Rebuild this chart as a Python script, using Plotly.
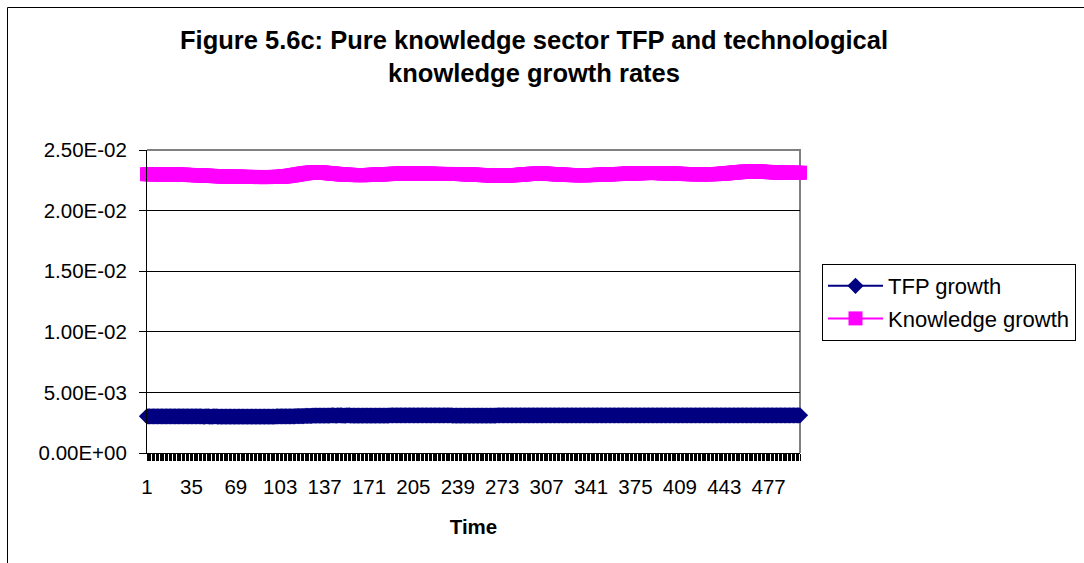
import plotly.graph_objects as go

# ---- data -------------------------------------------------------------
time = list(range(1, 502))
tick_times = [1, 35, 69, 103, 137, 171, 205, 239, 273, 307, 341, 375, 409, 443, 477]
y_ticks = [0.0, 0.005, 0.01, 0.015, 0.02, 0.025]
y_tick_text = ["0.00E+00", "5.00E-03", "1.00E-02", "1.50E-02", "2.00E-02", "2.50E-02"]

# one row = 20 time steps
tfp_growth = [
    0.00303, 0.00303, 0.00303, 0.00302, 0.00302, 0.00303, 0.00303, 0.00302, 0.00302, 0.00302, 0.00303, 0.00303, 0.00302, 0.00302, 0.00302, 0.00302, 0.00303, 0.00302, 0.00302, 0.00302,  # 1-20
    0.00302, 0.00302, 0.00302, 0.00302, 0.00303, 0.00302, 0.00302, 0.00302, 0.00302, 0.00302, 0.00302, 0.00302, 0.00302, 0.00302, 0.00302, 0.00302, 0.00302, 0.00302, 0.00302, 0.00302,  # 21-40
    0.00302, 0.00302, 0.00302, 0.00301, 0.00301, 0.00302, 0.00302, 0.00302, 0.00301, 0.00301, 0.00301, 0.00302, 0.00302, 0.00302, 0.00301, 0.00301, 0.00301, 0.00301, 0.00301, 0.00301,  # 41-60
    0.00301, 0.00301, 0.00301, 0.00301, 0.00301, 0.00301, 0.00301, 0.00301, 0.00301, 0.00301, 0.00301, 0.00301, 0.00301, 0.00301, 0.00301, 0.00301, 0.00301, 0.00301, 0.00301, 0.00301,  # 61-80
    0.00301, 0.00301, 0.00301, 0.00301, 0.00301, 0.00301, 0.00301, 0.00301, 0.00301, 0.00301, 0.00301, 0.00301, 0.00301, 0.00301, 0.00301, 0.00301, 0.00301, 0.00301, 0.00301, 0.00302,  # 81-100
    0.00302, 0.00302, 0.00302, 0.00302, 0.00302, 0.00302, 0.00302, 0.00302, 0.00303, 0.00303, 0.00303, 0.00303, 0.00303, 0.00303, 0.00304, 0.00304, 0.00304, 0.00304, 0.00305, 0.00305,  # 101-120
    0.00305, 0.00306, 0.00306, 0.00306, 0.00307, 0.00307, 0.00307, 0.00308, 0.00308, 0.00308, 0.00309, 0.00309, 0.00309, 0.00309, 0.00309, 0.00309, 0.00309, 0.00309, 0.00309, 0.00309,  # 121-140
    0.00309, 0.00310, 0.00310, 0.00310, 0.00309, 0.00309, 0.00310, 0.00310, 0.00310, 0.00310, 0.00309, 0.00309, 0.00309, 0.00310, 0.00310, 0.00310, 0.00309, 0.00309, 0.00309, 0.00309,  # 141-160
    0.00309, 0.00309, 0.00309, 0.00309, 0.00309, 0.00309, 0.00309, 0.00309, 0.00309, 0.00309, 0.00309, 0.00309, 0.00309, 0.00309, 0.00309, 0.00309, 0.00309, 0.00309, 0.00309, 0.00309,  # 161-180
    0.00309, 0.00309, 0.00309, 0.00309, 0.00309, 0.00309, 0.00310, 0.00310, 0.00310, 0.00310, 0.00310, 0.00310, 0.00310, 0.00310, 0.00310, 0.00310, 0.00310, 0.00310, 0.00310, 0.00310,  # 181-200
    0.00310, 0.00310, 0.00310, 0.00310, 0.00310, 0.00310, 0.00310, 0.00310, 0.00310, 0.00310, 0.00310, 0.00310, 0.00310, 0.00310, 0.00310, 0.00310, 0.00310, 0.00310, 0.00310, 0.00310,  # 201-220
    0.00310, 0.00310, 0.00310, 0.00310, 0.00310, 0.00310, 0.00310, 0.00310, 0.00310, 0.00310, 0.00310, 0.00310, 0.00310, 0.00310, 0.00309, 0.00309, 0.00309, 0.00309, 0.00309, 0.00309,  # 221-240
    0.00309, 0.00309, 0.00309, 0.00309, 0.00309, 0.00309, 0.00309, 0.00309, 0.00309, 0.00309, 0.00309, 0.00309, 0.00309, 0.00309, 0.00309, 0.00309, 0.00309, 0.00309, 0.00309, 0.00309,  # 241-260
    0.00309, 0.00309, 0.00309, 0.00309, 0.00309, 0.00309, 0.00309, 0.00309, 0.00310, 0.00310, 0.00310, 0.00310, 0.00310, 0.00310, 0.00310, 0.00310, 0.00310, 0.00310, 0.00310, 0.00310,  # 261-280
    0.00310, 0.00310, 0.00310, 0.00310, 0.00310, 0.00310, 0.00310, 0.00310, 0.00310, 0.00310, 0.00310, 0.00310, 0.00310, 0.00310, 0.00310, 0.00310, 0.00310, 0.00310, 0.00310, 0.00310,  # 281-300
    0.00310, 0.00310, 0.00310, 0.00310, 0.00310, 0.00310, 0.00310, 0.00310, 0.00310, 0.00310, 0.00310, 0.00310, 0.00310, 0.00310, 0.00310, 0.00310, 0.00310, 0.00310, 0.00310, 0.00310,  # 301-320
    0.00310, 0.00310, 0.00310, 0.00310, 0.00310, 0.00310, 0.00310, 0.00310, 0.00310, 0.00310, 0.00310, 0.00310, 0.00310, 0.00310, 0.00310, 0.00310, 0.00310, 0.00310, 0.00310, 0.00310,  # 321-340
    0.00310, 0.00310, 0.00310, 0.00310, 0.00310, 0.00310, 0.00310, 0.00310, 0.00310, 0.00310, 0.00310, 0.00310, 0.00310, 0.00310, 0.00310, 0.00310, 0.00310, 0.00310, 0.00310, 0.00310,  # 341-360
    0.00310, 0.00310, 0.00310, 0.00310, 0.00310, 0.00310, 0.00310, 0.00310, 0.00310, 0.00310, 0.00310, 0.00310, 0.00310, 0.00310, 0.00310, 0.00310, 0.00310, 0.00310, 0.00310, 0.00310,  # 361-380
    0.00310, 0.00310, 0.00310, 0.00310, 0.00310, 0.00310, 0.00310, 0.00310, 0.00310, 0.00310, 0.00310, 0.00310, 0.00310, 0.00310, 0.00310, 0.00310, 0.00310, 0.00310, 0.00310, 0.00310,  # 381-400
    0.00310, 0.00310, 0.00310, 0.00310, 0.00310, 0.00310, 0.00310, 0.00310, 0.00310, 0.00310, 0.00310, 0.00310, 0.00310, 0.00310, 0.00310, 0.00310, 0.00310, 0.00310, 0.00310, 0.00310,  # 401-420
    0.00310, 0.00310, 0.00310, 0.00310, 0.00310, 0.00310, 0.00310, 0.00310, 0.00310, 0.00310, 0.00310, 0.00310, 0.00310, 0.00310, 0.00310, 0.00310, 0.00310, 0.00310, 0.00310, 0.00310,  # 421-440
    0.00310, 0.00310, 0.00310, 0.00310, 0.00310, 0.00310, 0.00310, 0.00310, 0.00310, 0.00310, 0.00310, 0.00310, 0.00310, 0.00310, 0.00311, 0.00311, 0.00311, 0.00311, 0.00311, 0.00311,  # 441-460
    0.00311, 0.00311, 0.00311, 0.00311, 0.00311, 0.00311, 0.00311, 0.00311, 0.00311, 0.00311, 0.00311, 0.00311, 0.00311, 0.00311, 0.00311, 0.00311, 0.00311, 0.00311, 0.00311, 0.00311,  # 461-480
    0.00311, 0.00311, 0.00311, 0.00311, 0.00311, 0.00311, 0.00311, 0.00311, 0.00311, 0.00311, 0.00311, 0.00311, 0.00311, 0.00311, 0.00311, 0.00311, 0.00311, 0.00311, 0.00311, 0.00311,  # 481-500
    0.00311,  # 501
]

knowledge_growth = [
    0.02300, 0.02301, 0.02300, 0.02300, 0.02299, 0.02300, 0.02301, 0.02300, 0.02299, 0.02299, 0.02300, 0.02300, 0.02299, 0.02298, 0.02299, 0.02299, 0.02298, 0.02298, 0.02299, 0.02298,  # 1-20
    0.02298, 0.02297, 0.02297, 0.02298, 0.02297, 0.02296, 0.02296, 0.02297, 0.02296, 0.02295, 0.02295, 0.02294, 0.02295, 0.02294, 0.02293, 0.02293, 0.02292, 0.02293, 0.02292, 0.02291,  # 21-40
    0.02291, 0.02290, 0.02290, 0.02289, 0.02289, 0.02288, 0.02288, 0.02287, 0.02287, 0.02286, 0.02286, 0.02285, 0.02285, 0.02284, 0.02284, 0.02284, 0.02283, 0.02283, 0.02282, 0.02282,  # 41-60
    0.02282, 0.02281, 0.02281, 0.02281, 0.02280, 0.02280, 0.02280, 0.02280, 0.02279, 0.02280, 0.02279, 0.02279, 0.02279, 0.02278, 0.02279, 0.02278, 0.02278, 0.02278, 0.02278, 0.02277,  # 61-80
    0.02278, 0.02277, 0.02277, 0.02277, 0.02278, 0.02277, 0.02277, 0.02276, 0.02277, 0.02277, 0.02277, 0.02276, 0.02277, 0.02277, 0.02277, 0.02278, 0.02277, 0.02277, 0.02278, 0.02278,  # 81-100
    0.02278, 0.02279, 0.02279, 0.02280, 0.02281, 0.02282, 0.02283, 0.02284, 0.02286, 0.02287, 0.02289, 0.02290, 0.02292, 0.02294, 0.02296, 0.02297, 0.02299, 0.02301, 0.02303, 0.02305,  # 101-120
    0.02306, 0.02308, 0.02309, 0.02311, 0.02312, 0.02313, 0.02314, 0.02315, 0.02315, 0.02316, 0.02316, 0.02316, 0.02315, 0.02315, 0.02314, 0.02313, 0.02312, 0.02311, 0.02310, 0.02309,  # 121-140
    0.02308, 0.02307, 0.02306, 0.02305, 0.02304, 0.02303, 0.02302, 0.02301, 0.02300, 0.02299, 0.02298, 0.02298, 0.02297, 0.02296, 0.02296, 0.02295, 0.02295, 0.02294, 0.02294, 0.02294,  # 141-160
    0.02293, 0.02293, 0.02293, 0.02293, 0.02292, 0.02293, 0.02293, 0.02293, 0.02294, 0.02294, 0.02294, 0.02295, 0.02295, 0.02296, 0.02296, 0.02297, 0.02297, 0.02298, 0.02298, 0.02299,  # 161-180
    0.02299, 0.02300, 0.02300, 0.02301, 0.02301, 0.02302, 0.02302, 0.02303, 0.02303, 0.02304, 0.02304, 0.02305, 0.02305, 0.02305, 0.02306, 0.02306, 0.02306, 0.02307, 0.02307, 0.02307,  # 181-200
    0.02307, 0.02307, 0.02308, 0.02307, 0.02307, 0.02307, 0.02307, 0.02306, 0.02306, 0.02306, 0.02306, 0.02305, 0.02305, 0.02305, 0.02305, 0.02304, 0.02304, 0.02304, 0.02304, 0.02303,  # 201-220
    0.02303, 0.02303, 0.02303, 0.02303, 0.02303, 0.02302, 0.02302, 0.02302, 0.02302, 0.02302, 0.02303, 0.02302, 0.02302, 0.02302, 0.02302, 0.02302, 0.02302, 0.02302, 0.02302, 0.02302,  # 221-240
    0.02302, 0.02301, 0.02301, 0.02300, 0.02300, 0.02299, 0.02299, 0.02298, 0.02298, 0.02297, 0.02297, 0.02296, 0.02296, 0.02295, 0.02295, 0.02294, 0.02294, 0.02293, 0.02293, 0.02292,  # 241-260
    0.02292, 0.02291, 0.02291, 0.02290, 0.02290, 0.02290, 0.02289, 0.02289, 0.02289, 0.02289, 0.02289, 0.02288, 0.02289, 0.02289, 0.02289, 0.02289, 0.02290, 0.02290, 0.02291, 0.02291,  # 261-280
    0.02292, 0.02292, 0.02293, 0.02294, 0.02294, 0.02295, 0.02296, 0.02297, 0.02298, 0.02299, 0.02300, 0.02301, 0.02302, 0.02302, 0.02303, 0.02304, 0.02304, 0.02305, 0.02305, 0.02306,  # 281-300
    0.02306, 0.02306, 0.02306, 0.02306, 0.02305, 0.02305, 0.02304, 0.02304, 0.02303, 0.02302, 0.02302, 0.02301, 0.02300, 0.02300, 0.02299, 0.02298, 0.02298, 0.02297, 0.02297, 0.02296,  # 301-320
    0.02296, 0.02295, 0.02295, 0.02294, 0.02294, 0.02293, 0.02293, 0.02293, 0.02292, 0.02292, 0.02292, 0.02292, 0.02292, 0.02292, 0.02292, 0.02292, 0.02292, 0.02293, 0.02293, 0.02293,  # 321-340
    0.02293, 0.02294, 0.02294, 0.02294, 0.02295, 0.02295, 0.02296, 0.02296, 0.02297, 0.02297, 0.02297, 0.02298, 0.02298, 0.02299, 0.02299, 0.02300, 0.02300, 0.02300, 0.02301, 0.02301,  # 341-360
    0.02302, 0.02302, 0.02302, 0.02303, 0.02303, 0.02304, 0.02304, 0.02305, 0.02305, 0.02305, 0.02306, 0.02306, 0.02307, 0.02307, 0.02307, 0.02308, 0.02308, 0.02308, 0.02309, 0.02309,  # 361-380
    0.02309, 0.02309, 0.02310, 0.02310, 0.02310, 0.02310, 0.02310, 0.02310, 0.02310, 0.02310, 0.02310, 0.02309, 0.02309, 0.02309, 0.02309, 0.02308, 0.02308, 0.02308, 0.02307, 0.02307,  # 381-400
    0.02307, 0.02306, 0.02306, 0.02305, 0.02305, 0.02305, 0.02304, 0.02304, 0.02303, 0.02303, 0.02303, 0.02302, 0.02302, 0.02302, 0.02301, 0.02301, 0.02301, 0.02301, 0.02300, 0.02300,  # 401-420
    0.02300, 0.02300, 0.02300, 0.02300, 0.02300, 0.02300, 0.02300, 0.02300, 0.02300, 0.02300, 0.02300, 0.02300, 0.02300, 0.02301, 0.02301, 0.02301, 0.02302, 0.02302, 0.02303, 0.02303,  # 421-440
    0.02304, 0.02305, 0.02306, 0.02307, 0.02308, 0.02309, 0.02310, 0.02311, 0.02312, 0.02313, 0.02314, 0.02315, 0.02316, 0.02317, 0.02318, 0.02319, 0.02320, 0.02321, 0.02321, 0.02322,  # 441-460
    0.02322, 0.02322, 0.02323, 0.02323, 0.02323, 0.02323, 0.02323, 0.02322, 0.02322, 0.02322, 0.02321, 0.02321, 0.02320, 0.02320, 0.02319, 0.02319, 0.02318, 0.02318, 0.02317, 0.02317,  # 461-480
    0.02316, 0.02316, 0.02315, 0.02315, 0.02314, 0.02314, 0.02314, 0.02313, 0.02313, 0.02313, 0.02312, 0.02312, 0.02312, 0.02312, 0.02312, 0.02312, 0.02312, 0.02312, 0.02312, 0.02312,  # 481-500
    0.02312,  # 501
]

# ---- layout constants -------------------------------------------------
FONT = "Arial, 'Liberation Sans', sans-serif"
W, H = 1084, 563
PL, PR, PT, PB = 147, 800, 150, 453          # plot area edges in px
PW, PH = PR - PL, PB - PT


def px_x(x):
    return (x - PL) / PW


def px_y(y):
    return (PB - y) / PH


fig = go.Figure()
fig.add_trace(go.Scatter(
    x=time, y=tfp_growth, name="TFP growth", mode="lines+markers",
    line=dict(color="#000080", width=2),
    marker=dict(symbol="diamond", size=12.5, color="#000080"),
    cliponaxis=False, legendgroup="tfp",
))
fig.add_trace(go.Scatter(
    x=time, y=knowledge_growth, name="Knowledge growth", mode="lines+markers",
    line=dict(color="#FF00FF", width=2),
    marker=dict(symbol="square", size=14, color="#FF00FF"),
    cliponaxis=False, legendgroup="know",
))

fig.update_layout(
    width=W, height=H,
    margin=dict(l=PL, r=W - PR, t=PT, b=H - PB, autoexpand=False),
    paper_bgcolor="white", plot_bgcolor="white",
    font=dict(family=FONT, color="black", size=20),
    title=dict(
        text="<b>Figure 5.6c: Pure knowledge sector TFP and technological<br>knowledge growth rates</b>",
        x=534 / W, xanchor="center", xref="container",
        y=1 - 49 / H, yanchor="top", yref="container",
        font=dict(family=FONT, size=25.5, color="black"),
    ),
    xaxis=dict(
        range=[1, 501], tickmode="array", tickvals=tick_times,
        ticktext=[str(t) for t in tick_times],
        ticks="outside", ticklen=7, tickcolor="black", tickwidth=1,
        showline=True, linecolor="black", linewidth=1,
        showgrid=False, zeroline=False,
        minor=dict(dtick=1, tick0=1, ticks="outside", ticklen=7,
                   tickcolor="black", tickwidth=1, showgrid=False),
        tickfont=dict(size=20.5), ticklabelstandoff=8,
        title=dict(text="<b>Time</b>", font=dict(size=20.5), standoff=23),
    ),
    yaxis=dict(
        range=[0, 0.025], tickmode="array", tickvals=y_ticks, ticktext=y_tick_text,
        ticks="outside", ticklen=7, tickcolor="black", tickwidth=1,
        showline=True, linecolor="black", linewidth=1,
        showgrid=True, gridcolor="black", gridwidth=1, zeroline=False,
        tickfont=dict(size=20.5), ticklabelstandoff=8,
    ),
    legend=dict(
        x=px_x(822), y=px_y(264), xanchor="left", yanchor="top",
        bordercolor="black", borderwidth=1, bgcolor="white",
        font=dict(size=22), traceorder="grouped", tracegroupgap=1,
        itemwidth=55, entrywidth=205, entrywidthmode="pixels",
    ),
    shapes=[
        # outer chart frame: left and top edges
        dict(type="line", xref="paper", yref="paper",
             x0=px_x(7.5), x1=px_x(7.5), y0=px_y(570), y1=px_y(7.5),
             line=dict(color="black", width=1), layer="below"),
        dict(type="line", xref="paper", yref="paper",
             x0=px_x(7.5), x1=px_x(1090), y0=px_y(7.5), y1=px_y(7.5),
             line=dict(color="black", width=1), layer="below"),
        # grey top and right edges of the plot area
        dict(type="path", xref="paper", yref="paper", path="M 0 1 L 1 1 L 1 0",
             line=dict(color="#808080", width=2), layer="below"),
    ],
)

fig.write_html("out.html")
